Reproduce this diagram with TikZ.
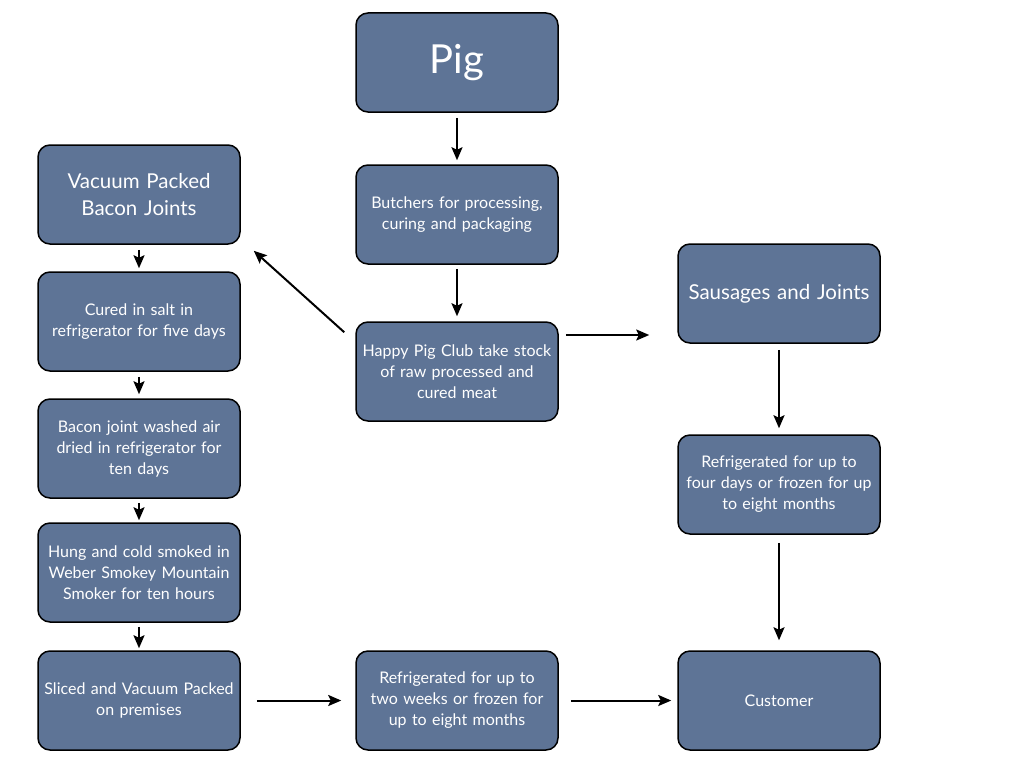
\documentclass[tikz,border=0pt]{standalone}
\usepackage{fontspec}
\setmainfont{Lato}
\usetikzlibrary{arrows.meta}
\definecolor{boxfill}{RGB}{94,116,150}
\tikzset{
  stepbox/.style={draw=black, line width=1.5pt, fill=boxfill, rounded corners=12pt,
    minimum width=202pt, minimum height=99pt, inner sep=4pt, text=white, align=center,
    text width=194pt, font=\fontsize{16}{21}\selectfont},
  bigtext/.style={font=\fontsize{20.5}{27}\selectfont, text width=198pt, inner xsep=1pt},
  hugetext/.style={font=\fontsize{40}{46}\selectfont},
  conn/.style={line width=2pt, -{Stealth[length=13pt,width=11pt,inset=2.5pt]}}
}
\begin{document}
\begin{tikzpicture}[x=1pt,y=-1pt]
\useasboundingbox (0,0) rectangle (1024,768);
\node[stepbox,hugetext] (pig) at (457,62.5) {Pig};
\node[stepbox] (butch) at (457,214.5) {Butchers for processing,\\curing and packaging};
\node[stepbox] (happy) at (457,371.5) {Happy Pig Club take stock\\of raw processed and\\cured meat};
\node[stepbox,bigtext] (vac) at (139,194.5) {Vacuum Packed\\Bacon Joints};
\node[stepbox] (cured) at (139,321.5) {Cured in salt in\\refrigerator for five days};
\node[stepbox] (washed) at (139,448.5) {Bacon joint washed air\\dried in refrigerator for\\ten days};
\node[stepbox] (hung) at (139,572.5) {Hung and cold smoked in\\Weber Smokey Mountain\\Smoker for ten hours};
\node[stepbox] (sliced) at (139,700.5) {Sliced and Vacuum Packed\\on premises};
\node[stepbox,bigtext] (saus) at (779,293.5) {Sausages and Joints};
\node[stepbox] (fridge4) at (779,484.5) {Refrigerated for up to\\four days or frozen for up\\to eight months};
\node[stepbox] (cust) at (779,700.5) {Customer};
\node[stepbox] (fridge2) at (457,700.5) {Refrigerated for up to\\two weeks or frozen for\\up to eight months};

\draw[conn, shorten <=5pt, shorten >=4pt] (pig.south) -- (butch.north);
\draw[conn, shorten <=4pt, shorten >=5pt] (butch.south) -- (happy.north);
\draw[conn] ([shift={(-11,11)}]happy.north west) -- ([shift={(13,6)}]vac.south east);
\draw[conn, shorten <=7pt, shorten >=28pt] ([yshift=36.5pt]happy.east) -- ([yshift=36.5pt]happy.east -| saus.west);
\draw[conn, shorten <=6pt, shorten >=6pt] (saus.south) -- (fridge4.north);
\draw[conn, shorten <=8pt, shorten >=10pt] (fridge4.south) -- (cust.north);
\draw[conn, shorten <=5pt, shorten >=3pt] (vac.south) -- (cured.north);
\draw[conn, shorten <=5pt, shorten >=4pt] (cured.south) -- (washed.north);
\draw[conn, shorten <=4pt, shorten >=2pt] (washed.south) -- (hung.north);
\draw[conn, shorten <=4pt, shorten >=2pt] (hung.south) -- (sliced.north);
\draw[conn, shorten <=16pt, shorten >=14pt] (sliced.east) -- (fridge2.west);
\draw[conn, shorten <=12pt, shorten >=6pt] (fridge2.east) -- (cust.west);
\end{tikzpicture}
\end{document}
